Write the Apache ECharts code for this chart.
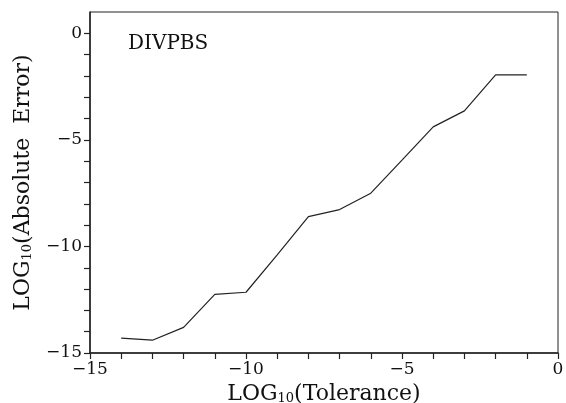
<!DOCTYPE html>
<html>
<head>
<meta charset="utf-8">
<script src="https://cdn.jsdelivr.net/npm/echarts@6/dist/echarts.min.js"></script>
<style>
  html, body { margin: 0; padding: 0; background: #fff; }
  #chart { width: 566px; height: 403px; }
</style>
</head>
<body>
<div id="chart"></div>
<script>
// log10(tolerance) vs log10(absolute error)
var tolerance = [-14, -13, -12, -11, -10, -9, -8, -7, -6, -5, -4, -3, -2, -1];
var absError = [-14.3, -14.4, -13.8, -12.25, -12.15, -10.4, -8.6, -8.27, -7.5, -5.95, -4.39, -3.64, -1.95, -1.95];
var labelStep = 5;

function minusLabel(v) {
    if (v % labelStep !== 0) return '';
    return v < 0 ? '\u2212' + Math.abs(v) : String(v);
}

var serif = '"DejaVu Serif", "Liberation Serif", serif';

var dom = document.getElementById('chart');
var myChart = echarts.init(dom, null, { renderer: 'canvas' });

var option = {
    animation: false,
    backgroundColor: '#fff',
    title: {
        text: 'DIVPBS',
        left: 123,
        top: 29,
        textStyle: { fontFamily: serif, fontSize: 20, fontWeight: 'normal', color: '#111' }
    },
    grid: {
        left: 90,
        right: 8,
        top: 12,
        bottom: 50,
        outerBoundsMode: 'none',
        show: true,
        borderColor: '#222',
        borderWidth: 1
    },
    xAxis: {
        type: 'value',
        min: -15,
        max: 0,
        interval: 1,
        name: '{n|LOG}{s|10}{n|(Tolerance)}',
        nameLocation: 'middle',
        nameGap: 27,
        nameTextStyle: {
            rich: {
                n: { fontFamily: serif, fontSize: 22, color: '#111' },
                s: { fontFamily: serif, fontSize: 13, color: '#111', verticalAlign: 'bottom', padding: [9, 0, 0, 0] }
            }
        },
        axisLine: { onZero: false, lineStyle: { color: '#222', width: 1.5 } },
        axisTick: { length: 6, lineStyle: { color: '#222', width: 1.2 } },
        axisLabel: {
            formatter: minusLabel,
            fontFamily: serif,
            fontSize: 17,
            color: '#111',
            margin: 8,
            showMinLabel: true,
            showMaxLabel: true
        },
        splitLine: { show: false }
    },
    yAxis: {
        type: 'value',
        min: -15,
        max: 1,
        interval: 1,
        name: '{n|LOG}{s|10}{n|(Absolute  Error)}',
        nameLocation: 'middle',
        nameGap: 56,
        nameTextStyle: {
            rich: {
                n: { fontFamily: serif, fontSize: 22, color: '#111' },
                s: { fontFamily: serif, fontSize: 13, color: '#111', verticalAlign: 'bottom', padding: [9, 0, 0, 0] }
            }
        },
        axisLine: { show: true, onZero: false, lineStyle: { color: '#222', width: 1.5 } },
        axisTick: { show: true, length: 6, lineStyle: { color: '#222', width: 1.2 } },
        axisLabel: {
            formatter: minusLabel,
            fontFamily: serif,
            fontSize: 17,
            color: '#111',
            margin: 8,
            showMaxLabel: false
        },
        splitLine: { show: false }
    },
    series: [
        {
            type: 'line',
            data: tolerance.map(function (t, i) { return [t, absError[i]]; }),
            showSymbol: false,
            lineStyle: { color: '#222', width: 1.2 }
        }
    ]
};

myChart.setOption(option);
</script>
</body>
</html>
